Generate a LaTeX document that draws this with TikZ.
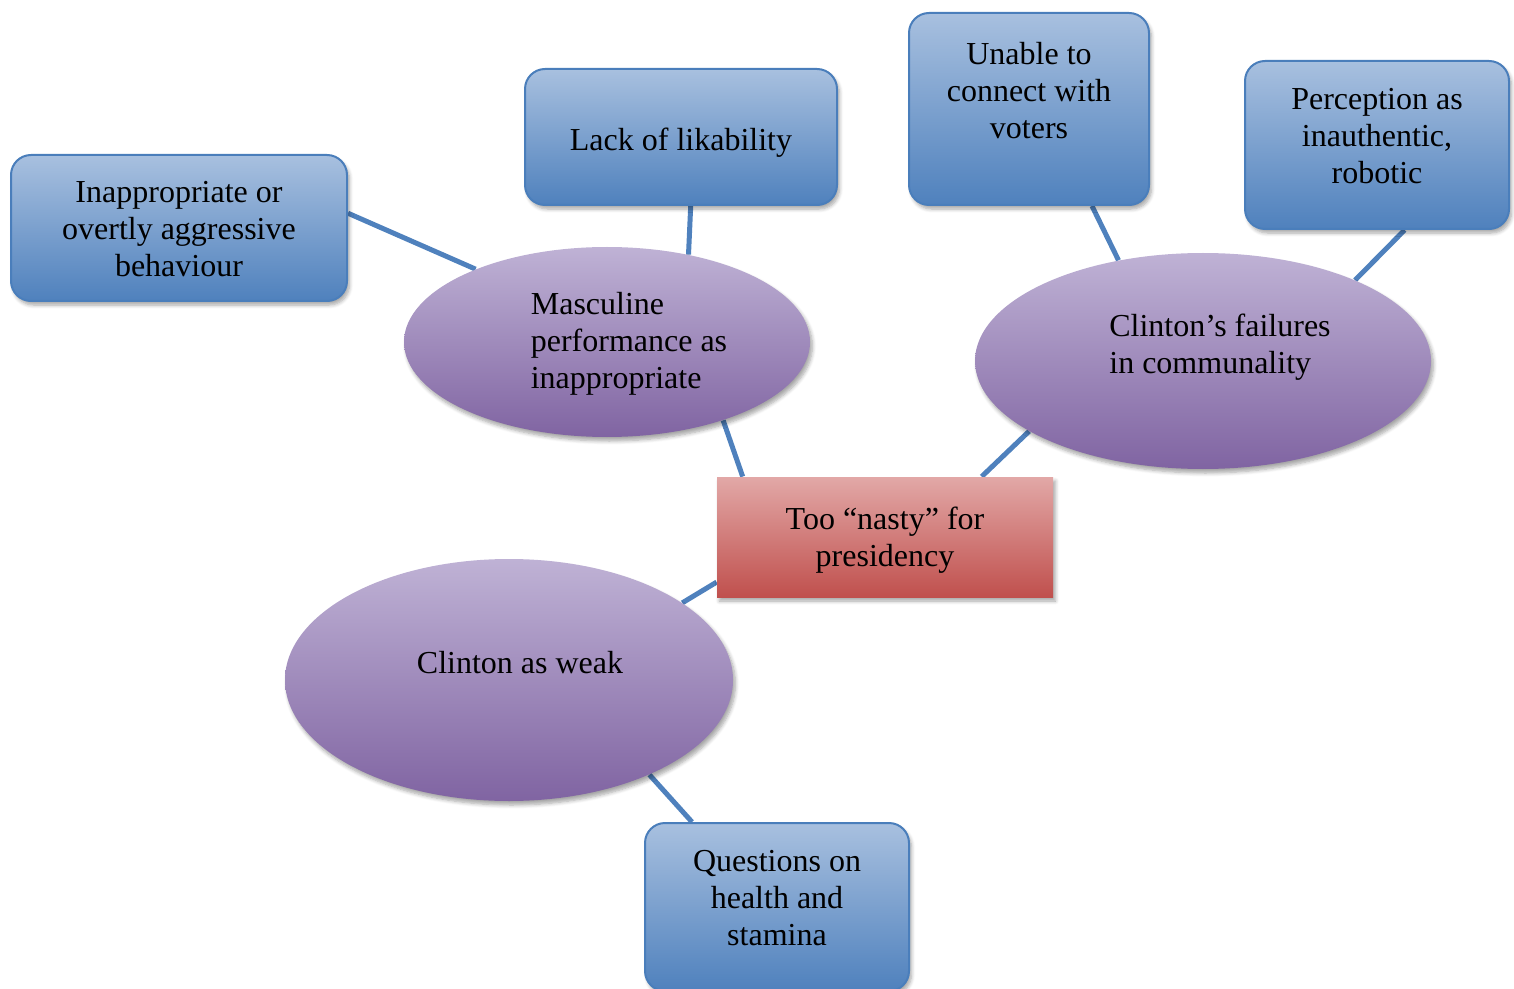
\documentclass[tikz,border=0pt]{standalone}
\usepackage{fontspec}
\setmainfont{Liberation Serif}
\usetikzlibrary{shapes.geometric,shadows.blur,backgrounds}

\definecolor{boxtop}{HTML}{A8C0DF}
\definecolor{boxbot}{HTML}{4F81BD}
\definecolor{boxline}{HTML}{4A7EBB}
\definecolor{ovaltop}{HTML}{BFB2D5}
\definecolor{ovalbot}{HTML}{8064A2}
\definecolor{redtop}{HTML}{E2A8A7}
\definecolor{redbot}{HTML}{C0504D}
\definecolor{linkblue}{HTML}{4F81BD}

\tikzset{
  txt/.style={font=\fontsize{16}{18.5}\selectfont, align=center, inner sep=0pt},
  base/.style={inner sep=0pt,
    blur shadow={shadow xshift=1.2pt, shadow yshift=-2pt, shadow blur steps=6, shadow opacity=35}},
  bluebox/.style={base, rectangle, rounded corners=10pt, draw=boxline, line width=1pt,
    top color=boxtop, bottom color=boxbot},
  oval/.style={base, ellipse, top color=ovaltop, bottom color=ovalbot},
  core/.style={base, rectangle, top color=redtop, bottom color=redbot},
  link/.style={draw=linkblue, line width=2.5pt},
}

\begin{document}
\begin{tikzpicture}[x=0.5pt, y=-0.5pt]
\useasboundingbox (0,0) rectangle (1514,989);

% centre of the map
\node[core, minimum width=168pt, minimum height=60pt,
      label={[txt, yshift=-1.5pt]center:{Too “nasty” for\\presidency}}] (core) at (885,537) {};

% three themes
\node[oval, minimum width=203pt, minimum height=95pt,
      label={[txt, align=left, xshift=11pt, yshift=-1pt]center:{Masculine\\performance as\\inappropriate}}] (masc) at (607,342) {};
\node[oval, minimum width=228pt, minimum height=108pt,
      label={[txt, align=left, xshift=8.5pt, yshift=7pt]center:{Clinton’s failures\\in communality}}] (comm) at (1203,361) {};
\node[oval, minimum width=224pt, minimum height=121pt,
      label={[txt, xshift=5.5pt, yshift=8.5pt]center:{Clinton as weak}}] (weak) at (509,680) {};

% sub-themes
\node[bluebox, minimum width=168pt, minimum height=73pt,
      label={[txt, yshift=-0.7pt]center:{Inappropriate or\\overtly aggressive\\behaviour}}] (aggr) at (179,228) {};
\node[bluebox, minimum width=156pt, minimum height=68pt,
      label={[txt, yshift=-3pt]center:{Lack of likability}}] (like) at (681,137) {};
\node[bluebox, minimum width=120pt, minimum height=96pt,
      label={[txt, yshift=9pt]center:{Unable to\\connect with\\voters}}] (voters) at (1029,109) {};
\node[bluebox, minimum width=132pt, minimum height=84pt,
      label={[txt, yshift=4.5pt]center:{Perception as\\inauthentic,\\robotic}}] (robot) at (1377,145) {};
\node[bluebox, minimum width=132pt, minimum height=84pt,
      label={[txt, yshift=4.5pt]center:{Questions on\\health and\\stamina}}] (health) at (777,907) {};

% connectors
\begin{scope}[on background layer]
  \draw[link] (aggr.5.7) -- (masc.151);
  \draw[link] (like.-82) -- (masc.47);
  \draw[link] (masc.-34.6) -- (core.157.4);
  \draw[link] (voters.-57.6) -- (comm.130.4);
  \draw[link] (robot.-72.2) -- (comm.28);
  \draw[link] (comm.-158.5) -- (core.32);
  \draw[link] (core.-165) -- (weak.24.9);
  \draw[link] (weak.-34.7) -- (health.135);
\end{scope}
\end{tikzpicture}
\end{document}
